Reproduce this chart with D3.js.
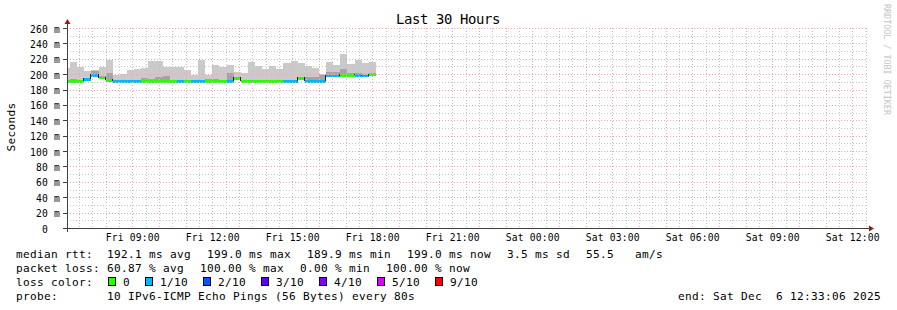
<!DOCTYPE html>
<html><head><meta charset="utf-8">
<script src="https://cdn.jsdelivr.net/npm/d3@7"></script>
<style>
html,body{margin:0;padding:0;background:#fff;}
svg{display:block;}
text{font-family:"DejaVu Sans Mono",monospace;white-space:pre;fill:#000;}
</style></head><body>
<svg id="chart" width="897" height="310"></svg>
<script>
// ---------- data ----------
const chartTitle = "Last 30 Hours";
const yAxisTitle = "Seconds";
const watermark = "RRDTOOL / TOBI OETIKER";
const startTime = Date.UTC(2025, 11, 5, 6, 33, 6);
const endTime = Date.UTC(2025, 11, 6, 12, 33, 6);
const firstStepEnd = Date.UTC(2025, 11, 5, 6, 40, 0);
const stepMinutes = 16;

// median rtt per step (ms)
const medianMs = [190, 190, 190, 193.5, 198, 195, 191.5, 190, 190, 190, 190, 190, 190, 190, 190,
  190, 190, 190, 190, 190, 190, 190, 190, 190, 194.5, 190, 190, 190, 190, 190, 190, 190, 190,
  194, 190, 190, 190, 197.5, 197.5, 198, 198, 198.5, 197.5, 199];
// lost pings out of 10 per step
const lossTenths = [0, 0, 0, 1, 1, 0, 0, 1, 1, 1, 1, 0, 0, 0, 0, 0, 1, 0, 1, 1, 0, 0, 0, 1, 0,
  0, 0, 0, 0, 0, 0, 1, 1, 0, 1, 1, 1, 1, 1, 0, 0, 1, 1, 0];
// slowest ping per step (ms)
const pingMaxMs = [207.6, 216.3, 209.7, 203.7, 205.4, 208.9, 218.4, 199.3, 200.6, 205.8, 207, 208,
  216.7, 216.7, 209, 209, 209, 206, 199.3, 218, 199.3, 212, 209.7, 212, 203, 201, 216, 210.6,
  206.7, 210.6, 206.7, 214, 217.5, 215, 210, 207.5, 200, 216, 211.5, 226, 213, 219, 214.5, 216];
// second slowest ping per step (ms)
const ping9Ms = [192, 193.7, 191, 195, 204, 197, 202, 191, 193, 192, 192, 194.8, 193.7, 195.7, 197,
  191.6, 191.6, 193, 193, 192, 194, 194, 192, 202, 196, 192, 192, 193, 192, 192, 193, 193, 192,
  196, 196, 196, 199, 203, 203, 207, 201, 201, 200, 201];

const yTicks = [0, 20, 40, 60, 80, 100, 120, 140, 160, 180, 200, 220, 240, 260];
const yTickLabels = ["0  ", "20 m", "40 m", "60 m", "80 m", "100 m", "120 m", "140 m", "160 m",
  "180 m", "200 m", "220 m", "240 m", "260 m"];
const yMinorTicks = [10, 30, 50, 70, 90, 110, 130, 150, 170, 190, 210, 230, 250];
const xTickLabels = ["Fri 09:00", "Fri 12:00", "Fri 15:00", "Fri 18:00", "Fri 21:00", "Sat 00:00",
  "Sat 03:00", "Sat 06:00", "Sat 09:00", "Sat 12:00"];
const firstXTick = Date.UTC(2025, 11, 5, 9, 0, 0);

const lossLabels = ["0", "1/10", "2/10", "3/10", "4/10", "5/10", "9/10"];
const lossLimits = [0, 1, 2, 3, 4, 5, 9];
const lossColors = ["#26ff00", "#00b8ff", "#0059ff", "#5e00ff", "#7e00ff", "#dd00ff", "#ff0000"];

const rttStats = ["192.1 ms avg", "199.0 ms max", "189.9 ms min", "199.0 ms now", "3.5 ms sd", "55.5   am/s"];
const lossStats = ["60.87 % avg", "100.00 % max", "0.00 % min", "100.00 % now"];
const probeText = "10 IPv6-ICMP Echo Pings (56 Bytes) every 80s";
const endText = "end: Sat Dec  6 12:33:06 2025";

// ---------- layout ----------
const W = 897, H = 310;
const plotL = 67, plotR = 867, plotT = 28, plotB = 228;
const svg = d3.select("#chart");

const x = d3.scaleUtc().domain([startTime, endTime]).range([plotL, plotR]);
const y = d3.scaleLinear().domain([0, 260]).range([plotB, plotT]);

const stepMs = stepMinutes * 60000;
const steps = medianMs.map((m, i) => ({
  t0: i === 0 ? startTime : firstStepEnd + (i - 1) * stepMs,
  t1: firstStepEnd + i * stepMs,
  median: m, loss: lossTenths[i], max: pingMaxMs[i], p9: ping9Ms[i]
}));
function lossColor(l) {
  for (let k = 0; k < lossLimits.length; k++) if (l <= lossLimits[k]) return lossColors[k];
  return lossColors[lossColors.length - 1];
}

// ---------- smoke ----------
const gData = svg.append("g").attr("shape-rendering", "crispEdges");
gData.selectAll("rect.s1").data(steps).join("rect").attr("class", "s1")
  .attr("x", d => x(d.t0)).attr("width", d => x(d.t1) - x(d.t0))
  .attr("y", d => y(d.max)).attr("height", d => y(d.median) - y(d.max))
  .attr("fill", "#cacaca");
gData.selectAll("rect.s2").data(steps).join("rect").attr("class", "s2")
  .attr("x", d => x(d.t0)).attr("width", d => x(d.t1) - x(d.t0))
  .attr("y", d => y(d.p9)).attr("height", d => y(d.median) - y(d.p9))
  .attr("fill", "#a4a4a4");

// ---------- median band ----------
const half = 1.4;
gData.selectAll("rect.med").data(steps).join("rect").attr("class", "med")
  .attr("x", d => x(d.t0)).attr("width", d => x(d.t1) - x(d.t0))
  .attr("y", d => y(d.median) - half).attr("height", 2 * half)
  .attr("fill", d => lossColor(d.loss));
// dark connectors at median changes
const trans = steps.slice(1).map((d, i) => ({ t: d.t0, a: steps[i].median, b: d.median }))
  .filter(d => d.a !== d.b);
gData.selectAll("line.conn").data(trans).join("line").attr("class", "conn")
  .attr("x1", d => Math.round(x(d.t)) - 0.5).attr("x2", d => Math.round(x(d.t)) - 0.5)
  .attr("y1", d => Math.min(y(d.a), y(d.b)) - half).attr("y2", d => Math.max(y(d.a), y(d.b)) - half + 1)
  .attr("stroke", "#202020").attr("stroke-width", 1);

// ---------- grid (on top, rrdtool style) ----------
const minorGrid = "#c4c4c4", majorGrid = "#eeaaaa";
const gGrid = svg.append("g").attr("shape-rendering", "crispEdges");
const halfHours = d3.utcMinute.every(30).range(new Date(startTime), new Date(endTime));
const minorV = halfHours.filter(t => t.getUTCMinutes() === 30);
const majorV = halfHours.filter(t => t.getUTCMinutes() === 0);
gGrid.selectAll("line.vmin").data(minorV).join("line")
  .attr("x1", d => Math.round(x(d)) + 0.5).attr("x2", d => Math.round(x(d)) + 0.5)
  .attr("y1", plotT).attr("y2", plotB)
  .attr("stroke", minorGrid).attr("stroke-dasharray", "1,2");
gGrid.selectAll("line.vmaj").data(majorV).join("line")
  .attr("x1", d => Math.round(x(d)) + 0.5).attr("x2", d => Math.round(x(d)) + 0.5)
  .attr("y1", plotT).attr("y2", plotB)
  .attr("stroke", majorGrid).attr("stroke-dasharray", "1,2");
gGrid.selectAll("line.hmin").data(yMinorTicks).join("line")
  .attr("y1", d => Math.round(y(d)) + 0.5).attr("y2", d => Math.round(y(d)) + 0.5)
  .attr("x1", plotL).attr("x2", plotR)
  .attr("stroke", minorGrid).attr("stroke-dasharray", "1,2");
gGrid.selectAll("line.hmaj").data(yTicks.filter(v => v > 0)).join("line")
  .attr("y1", d => Math.round(y(d)) + 0.5).attr("y2", d => Math.round(y(d)) + 0.5)
  .attr("x1", plotL).attr("x2", plotR)
  .attr("stroke", majorGrid).attr("stroke-dasharray", "1,2");

// ---------- axes ----------
const axisColor = "#404040";
const yAxis = d3.axisLeft(y).tickValues(yTicks).tickFormat((d, i) => yTickLabels[i])
  .tickSize(5).tickPadding(2);
const gy = svg.append("g").attr("transform", `translate(${plotL + 0.5},0)`).call(yAxis);
gy.select(".domain").remove();
gy.selectAll(".tick line").attr("stroke", axisColor).attr("shape-rendering", "crispEdges");
gy.selectAll(".tick text").attr("font-family", "DejaVu Sans Mono").attr("font-size", "9.7px")
  .attr("letter-spacing", "0.16px").attr("dy", null).attr("y", 4).attr("x", -7.5).attr("fill", "#000");

const xTickTimes = xTickLabels.map((l, i) => new Date(firstXTick + i * 3 * 3600000));
const xAxis = d3.axisBottom(x).tickValues(xTickTimes).tickFormat((d, i) => xTickLabels[i])
  .tickSize(0).tickPadding(0);
const gx = svg.append("g").attr("transform", `translate(0,${plotB})`).call(xAxis);
gx.select(".domain").remove();
gx.selectAll(".tick text").attr("font-family", "DejaVu Sans Mono").attr("font-size", "9.7px")
  .attr("letter-spacing", "0.16px").attr("dy", null).attr("y", 12.7).attr("fill", "#000");

// axis lines + arrows
svg.append("line").attr("x1", plotL + 0.5).attr("x2", plotL + 0.5).attr("y1", plotB + 4).attr("y2", plotT - 6)
  .attr("stroke", axisColor).attr("shape-rendering", "crispEdges");
svg.append("line").attr("x1", plotL - 4).attr("x2", plotR + 4).attr("y1", plotB + 0.5).attr("y2", plotB + 0.5)
  .attr("stroke", axisColor).attr("shape-rendering", "crispEdges");
const arrowColor = "#8b1d1d";
svg.append("path").attr("d", `M${plotL - 2.5},${plotT - 4}L${plotL + 3.5},${plotT - 4}L${plotL + 0.5},${plotT - 9}Z`)
  .attr("fill", arrowColor);
svg.append("path").attr("d", `M${plotR + 2},${plotB - 2.5}L${plotR + 2},${plotB + 3.5}L${plotR + 7},${plotB + 0.5}Z`)
  .attr("fill", arrowColor);

// ---------- titles ----------
svg.append("text").attr("x", 448).attr("y", 24).attr("text-anchor", "middle")
  .attr("font-size", "13.9px").attr("letter-spacing", "-0.37px").text(chartTitle);
svg.append("text").attr("transform", "translate(14.5,127) rotate(-90)").attr("text-anchor", "middle")
  .attr("font-size", "11.1px").attr("letter-spacing", "0.32px").text(yAxisTitle);
svg.append("text").attr("transform", "translate(884,4) rotate(90)").attr("text-anchor", "start")
  .attr("font-size", "8.4px").attr("letter-spacing", "0px").style("fill", "#c4c4c4").text(watermark);

// ---------- legend ----------
const legendFont = { size: "11.1px", ls: "0.32px" };
const charW = 7, gap = 16, colX = 107, leftX = 16;
const rows = [258, 272, 286, 300];
function legText(xp, yp, t) {
  return svg.append("text").attr("x", xp).attr("y", yp).attr("font-size", legendFont.size)
    .attr("letter-spacing", legendFont.ls).text(t);
}
legText(leftX, rows[0], "median rtt:");
legText(leftX, rows[1], "packet loss:");
legText(leftX, rows[2], "loss color:");
legText(leftX, rows[3], "probe:");
let cx = colX;
rttStats.forEach(s => { legText(cx, rows[0], s); cx += s.length * charW + gap; });
cx = colX;
lossStats.forEach(s => { legText(cx, rows[1], s); cx += s.length * charW + gap; });
cx = 108;
lossLabels.forEach((l, i) => {
  svg.append("rect").attr("x", cx + 0.5).attr("y", rows[2] - 8.5).attr("width", 7).attr("height", 8)
    .attr("fill", lossColors[i]).attr("stroke", "#000").attr("stroke-width", 1)
    .attr("shape-rendering", "crispEdges");
  legText(cx + 15, rows[2], l);
  cx += 14 + l.length * charW + gap;
});
legText(colX, rows[3], probeText);
legText(881, rows[3], endText).attr("text-anchor", "end");
</script>
</body></html>
